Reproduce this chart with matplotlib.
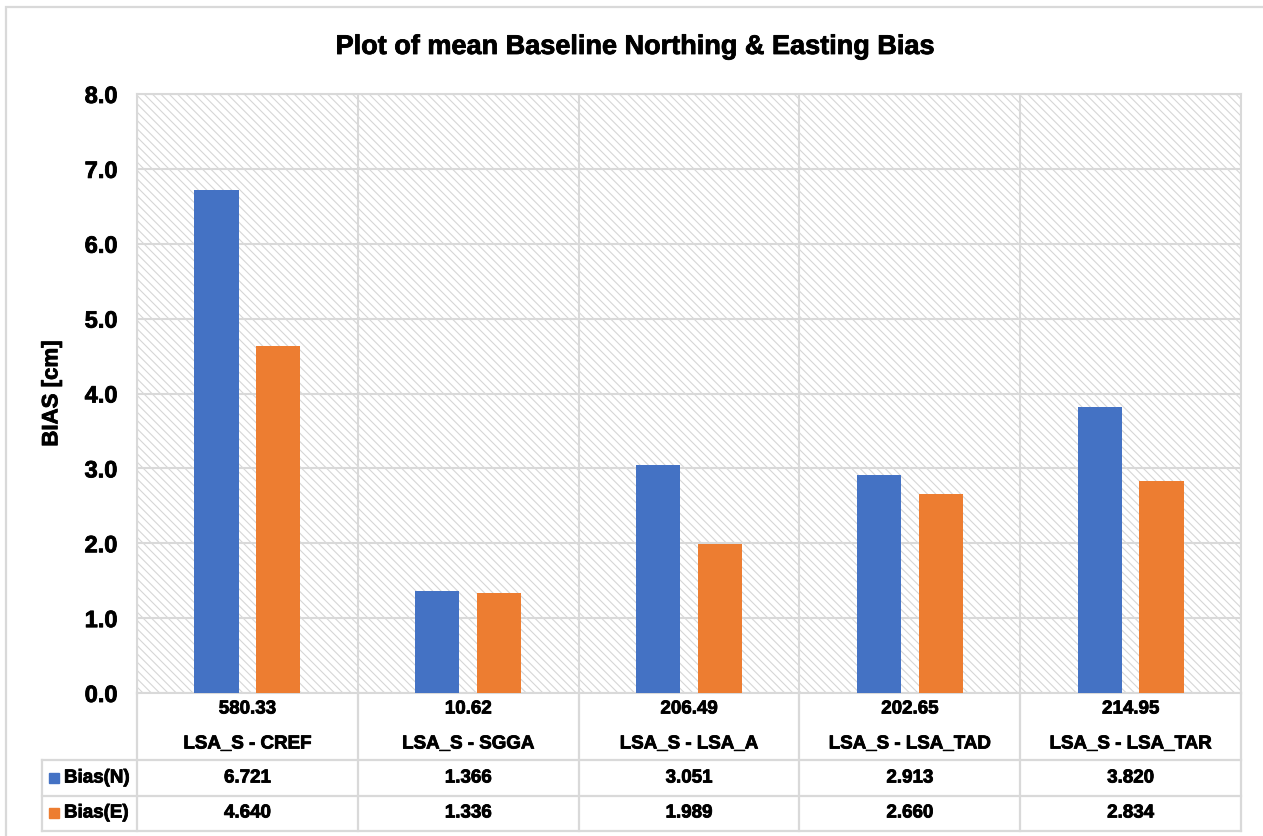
import matplotlib
matplotlib.use("Agg")
import matplotlib.pyplot as plt
import matplotlib.patheffects as pe
import numpy as np
from matplotlib.transforms import blended_transform_factory
from matplotlib.patches import Rectangle
from matplotlib.lines import Line2D

# Data
baselines = ["LSA_S - CREF", "LSA_S - SGGA", "LSA_S - LSA_A", "LSA_S - LSA_TAD", "LSA_S - LSA_TAR"]
lengths = ["580.33", "10.62", "206.49", "202.65", "214.95"]
bias_n = [6.721, 1.366, 3.051, 2.913, 3.820]
bias_e = [4.640, 1.336, 1.989, 2.660, 2.834]
series_names = ["Bias(N)", "Bias(E)"]
yticks = [0.0, 1.0, 2.0, 3.0, 4.0, 5.0, 6.0, 7.0, 8.0]

BLUE = "#4472C4"
ORANGE = "#ED7D31"
GRID = "#D9D9D9"

plt.rcParams["font.family"] = ["Liberation Sans", "DejaVu Sans"]
plt.rcParams["font.weight"] = "bold"
plt.rcParams["hatch.color"] = "#D6D6D6"
plt.rcParams["hatch.linewidth"] = 0.8

# slightly heavier strokes for the bold labels
heavy = [pe.withStroke(linewidth=0.6, foreground="black")]

W, H = 1263, 836
fig = plt.figure(figsize=(W / 100, H / 100), dpi=100)

# outer chart frame
fig.add_artist(Rectangle((6 / W, -0.05), 1.2, (836 - 7) / H + 0.05,
                         transform=fig.transFigure, fill=False,
                         edgecolor=GRID, lw=1.6))

left, right, top, bottom = 137, 1241, 94, 693
ax = fig.add_axes([left / W, (H - bottom) / H, (right - left) / W, (bottom - top) / H])

ax.patch.set_facecolor("white")
ax.patch.set_hatch("\\\\\\\\")
ax.patch.set_edgecolor("#D6D6D6")
ax.patch.set_linewidth(0)

x = np.arange(len(baselines))
width = 0.2
offset = 0.14
ax.bar(x - offset, bias_n, width, color=BLUE, zorder=3, label=series_names[0])
ax.bar(x + offset, bias_e, width, color=ORANGE, zorder=3, label=series_names[1])

ax.set_xlim(-0.5, len(baselines) - 0.5)
ax.set_ylim(0, 8)
ax.set_yticks(yticks)
ax.set_yticklabels([f"{v:.1f}" for v in yticks], fontsize=17, fontweight="bold")
for t in ax.get_yticklabels():
    t.set_path_effects(heavy)
ax.tick_params(axis="y", length=0, pad=14)
ax.set_xticks([])

for v in yticks:
    ax.axhline(v, color=GRID, lw=1.5, zorder=1)
for b in np.arange(-0.5, len(baselines), 1.0):
    ax.axvline(b, color=GRID, lw=1.5, zorder=1)
for s in ax.spines.values():
    s.set_color(GRID)
    s.set_linewidth(1.5)

ylab = ax.set_ylabel("BIAS [cm]", fontsize=16, fontweight="bold", labelpad=16)
ylab.set_path_effects(heavy)

fig.text(0.503, 1 - 47 / H, "Plot of mean Baseline Northing & Easting Bias",
         ha="center", va="center", fontsize=19.5, fontweight="bold",
         path_effects=heavy)

# Data table under the axis
tr = blended_transform_factory(ax.transData, ax.transAxes)
ph = bottom - top


def ya(py):
    return (bottom - py) / ph


def xd(px):
    return (px - left) / ((right - left) / len(baselines)) - 0.5


y_hdr = ya(760)
y_n = ya(796)
y_e = ya(831)
x_leg = xd(42)

lkw = dict(color=GRID, lw=1.6, transform=tr, clip_on=False)
for b in np.arange(-0.5, len(baselines), 1.0):
    ax.add_line(Line2D([b, b], [0, y_e], **lkw))
ax.add_line(Line2D([x_leg, x_leg], [y_hdr, y_e], **lkw))
for yy in (y_hdr, y_n, y_e):
    ax.add_line(Line2D([x_leg, len(baselines) - 0.5], [yy, yy], **lkw))

tkw = dict(transform=tr, ha="center", va="center", fontsize=13.5,
           fontweight="bold", clip_on=False, path_effects=heavy)
for i in range(len(baselines)):
    ax.text(i, ya(709), lengths[i], **tkw)
    ax.text(i, ya(744), baselines[i], **tkw)
    ax.text(i, ya(778), f"{bias_n[i]:.3f}", **tkw)
    ax.text(i, ya(813), f"{bias_e[i]:.3f}", **tkw)

for yy, name, col in ((ya(778), series_names[0], BLUE), (ya(813), series_names[1], ORANGE)):
    ax.plot([xd(54)], [yy], marker="s", markersize=7.5, color=col,
            transform=tr, clip_on=False, linestyle="none")
    ax.text(xd(64), yy, name, transform=tr, ha="left", va="center",
            fontsize=13.5, fontweight="bold", clip_on=False, path_effects=heavy)

fig.savefig("out.png", dpi=100)
